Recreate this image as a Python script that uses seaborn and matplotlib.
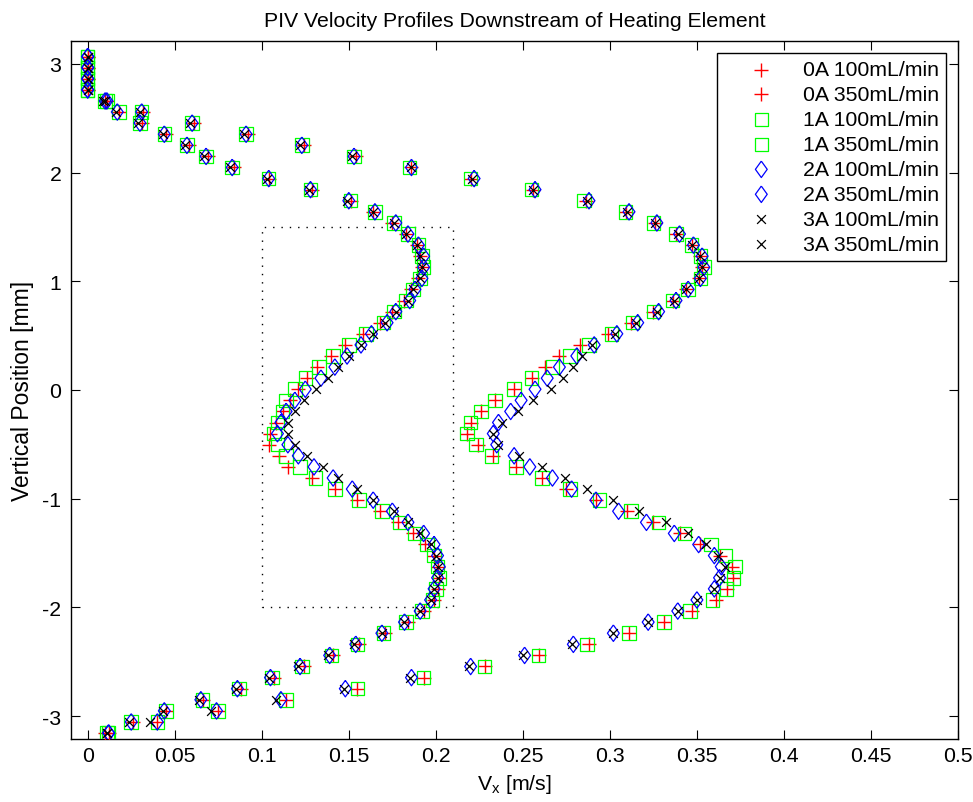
import matplotlib
matplotlib.use("Agg")
import matplotlib.pyplot as plt
import seaborn as sns
from matplotlib.patches import Rectangle

# ---------------- data ----------------
# vertical measurement positions [mm] (shared by all series)
y_pos = [3.067, 2.965, 2.863, 2.761, 2.659, 2.557, 2.455, 2.353, 2.251, 2.149,
         2.047, 1.945, 1.843, 1.741, 1.639, 1.537, 1.435, 1.333, 1.231, 1.129,
         1.027, 0.925, 0.823, 0.721, 0.619, 0.517, 0.415, 0.313, 0.211, 0.109,
         0.007, -0.095, -0.197, -0.299, -0.401, -0.503, -0.605, -0.707, -0.809, -0.911,
         -1.013, -1.115, -1.217, -1.319, -1.421, -1.523, -1.625, -1.727, -1.829, -1.931,
         -2.033, -2.135, -2.237, -2.339, -2.441, -2.543, -2.645, -2.747, -2.849, -2.951,
         -3.053, -3.155]

vx_0A_100 = [0, 0, 0, 0, 0.010, 0.018, 0.031, 0.045, 0.058, 0.069,
             0.084, 0.104, 0.129, 0.151, 0.164, 0.175, 0.183, 0.189, 0.191, 0.192,
             0.190, 0.186, 0.182, 0.175, 0.168, 0.158, 0.148, 0.140, 0.132, 0.126,
             0.121, 0.116, 0.112, 0.108, 0.105, 0.104, 0.110, 0.115, 0.129, 0.142,
             0.155, 0.168, 0.178, 0.187, 0.194, 0.199, 0.201, 0.202, 0.201, 0.199,
             0.193, 0.184, 0.171, 0.156, 0.141, 0.124, 0.107, 0.088, 0.066, 0.045,
             0.026, 0.010]
vx_0A_350 = [0, 0, 0, 0, 0.011, 0.032, 0.061, 0.092, 0.124, 0.154,
             0.186, 0.220, 0.256, 0.286, 0.309, 0.326, 0.338, 0.347, 0.352, 0.353,
             0.351, 0.344, 0.336, 0.325, 0.312, 0.299, 0.283, 0.271, 0.263, 0.255,
             0.245, 0.234, 0.226, 0.220, 0.218, 0.224, 0.233, 0.246, 0.261, 0.275,
             0.292, 0.310, 0.325, 0.340, 0.352, 0.363, 0.370, 0.371, 0.367, 0.361,
             0.347, 0.331, 0.311, 0.288, 0.259, 0.228, 0.193, 0.155, 0.114, 0.075,
             0.040, 0.012]
vx_1A_100 = [0, 0, 0, 0, 0.010, 0.018, 0.030, 0.044, 0.057, 0.068,
             0.083, 0.104, 0.128, 0.151, 0.165, 0.176, 0.184, 0.190, 0.192, 0.193,
             0.191, 0.187, 0.183, 0.176, 0.170, 0.160, 0.150, 0.141, 0.133, 0.125,
             0.119, 0.114, 0.112, 0.109, 0.107, 0.109, 0.114, 0.122, 0.131, 0.142,
             0.156, 0.169, 0.179, 0.188, 0.195, 0.199, 0.201, 0.202, 0.200, 0.198,
             0.192, 0.183, 0.170, 0.155, 0.140, 0.123, 0.106, 0.087, 0.066, 0.045,
             0.025, 0.011]
vx_1A_350 = [0, 0, 0, 0, 0.011, 0.031, 0.060, 0.091, 0.123, 0.153,
             0.185, 0.220, 0.255, 0.285, 0.309, 0.325, 0.338, 0.347, 0.352, 0.354,
             0.352, 0.345, 0.336, 0.325, 0.313, 0.301, 0.288, 0.277, 0.267, 0.255,
             0.245, 0.234, 0.226, 0.220, 0.218, 0.223, 0.232, 0.246, 0.261, 0.277,
             0.294, 0.312, 0.328, 0.343, 0.358, 0.366, 0.372, 0.371, 0.367, 0.359,
             0.346, 0.331, 0.311, 0.287, 0.259, 0.228, 0.193, 0.155, 0.114, 0.075,
             0.040, 0.012]
vx_2A_100 = [0, 0, 0, 0, 0.010, 0.017, 0.030, 0.044, 0.057, 0.068,
             0.083, 0.104, 0.128, 0.150, 0.165, 0.177, 0.184, 0.190, 0.193, 0.193,
             0.192, 0.188, 0.185, 0.177, 0.172, 0.163, 0.157, 0.149, 0.142, 0.134,
             0.125, 0.119, 0.114, 0.111, 0.109, 0.115, 0.121, 0.130, 0.141, 0.152,
             0.164, 0.175, 0.184, 0.193, 0.199, 0.201, 0.202, 0.201, 0.199, 0.197,
             0.191, 0.182, 0.169, 0.154, 0.139, 0.122, 0.105, 0.086, 0.065, 0.044,
             0.025, 0.012]
vx_2A_350 = [0, 0, 0, 0, 0.011, 0.031, 0.060, 0.091, 0.123, 0.153,
             0.186, 0.222, 0.257, 0.288, 0.311, 0.327, 0.340, 0.348, 0.353, 0.354,
             0.352, 0.345, 0.338, 0.328, 0.316, 0.304, 0.291, 0.281, 0.271, 0.264,
             0.257, 0.249, 0.243, 0.236, 0.233, 0.235, 0.245, 0.254, 0.267, 0.278,
             0.292, 0.305, 0.321, 0.337, 0.351, 0.360, 0.364, 0.363, 0.360, 0.350,
             0.339, 0.322, 0.302, 0.279, 0.251, 0.220, 0.186, 0.148, 0.111, 0.074,
             0.040, 0.012]
vx_3A_100 = [0, 0, 0, 0, 0.009, 0.016, 0.029, 0.043, 0.056, 0.067,
             0.082, 0.103, 0.127, 0.149, 0.164, 0.176, 0.183, 0.189, 0.191, 0.192,
             0.191, 0.187, 0.184, 0.177, 0.171, 0.164, 0.157, 0.150, 0.144, 0.138,
             0.131, 0.124, 0.119, 0.115, 0.115, 0.119, 0.126, 0.135, 0.144, 0.155,
             0.164, 0.176, 0.184, 0.191, 0.197, 0.200, 0.201, 0.201, 0.199, 0.197,
             0.191, 0.182, 0.169, 0.153, 0.138, 0.121, 0.104, 0.085, 0.064, 0.043,
             0.024, 0.011]
vx_3A_350 = [0, 0, 0, 0, 0.010, 0.030, 0.059, 0.090, 0.122, 0.152,
             0.186, 0.221, 0.256, 0.287, 0.310, 0.326, 0.339, 0.347, 0.352, 0.353,
             0.351, 0.344, 0.337, 0.327, 0.315, 0.303, 0.290, 0.284, 0.279, 0.273,
             0.266, 0.256, 0.247, 0.238, 0.233, 0.236, 0.248, 0.261, 0.274, 0.287,
             0.302, 0.317, 0.332, 0.345, 0.355, 0.362, 0.366, 0.363, 0.360, 0.350,
             0.339, 0.322, 0.302, 0.278, 0.250, 0.219, 0.185, 0.147, 0.108, 0.071,
             0.036, 0.011]

series_labels = ["0A 100mL/min", "0A 350mL/min", "1A 100mL/min", "1A 350mL/min",
                 "2A 100mL/min", "2A 350mL/min", "3A 100mL/min", "3A 350mL/min"]
series_values = [vx_0A_100, vx_0A_350, vx_1A_100, vx_1A_350,
                 vx_2A_100, vx_2A_350, vx_3A_100, vx_3A_350]

x_ticks = [0, 0.05, 0.1, 0.15, 0.2, 0.25, 0.3, 0.35, 0.4, 0.45, 0.5]
x_tick_labels = ["0", "0.05", "0.1", "0.15", "0.2", "0.25", "0.3", "0.35", "0.4", "0.45", "0.5"]
y_ticks = [-3, -2, -1, 0, 1, 2, 3]
y_tick_labels = ["-3", "-2", "-1", "0", "1", "2", "3"]

# region of interest (dotted box)
roi_x = [0.1, 0.21]
roi_y = [-2.0, 1.5]

# ---------------- style ----------------
plt.rcParams['font.family'] = ['Liberation Sans', 'DejaVu Sans']
plt.rcParams['axes.unicode_minus'] = False
plt.rcParams['mathtext.default'] = 'regular'
FS = 15.3

diamond = [(0, 1), (0.72, 0), (0, -1), (-0.72, 0), (0, 1)]
marker_styles = [
    dict(marker='+', color='#ff0000', s=95, linewidth=1.0),
    dict(marker='s', facecolor='none', edgecolor='#00ff00', s=95, linewidth=0.9),
    dict(marker=diamond, facecolor='none', edgecolor='#0000ff', s=140, linewidth=0.9),
    dict(marker='x', color='#000000', s=40, linewidth=0.9),
]

fig = plt.figure(figsize=(9.73, 8.03), dpi=100)
fig.patch.set_facecolor('white')
ax = fig.add_axes([71 / 973, 1 - 740 / 803, (958 - 71) / 973, (740 - 42) / 803])

for i, (vals, lab) in enumerate(zip(series_values, series_labels)):
    st = marker_styles[i // 2]
    sns.scatterplot(x=vals, y=y_pos, ax=ax, label=lab, zorder=3 + i, **st)

ax.add_patch(Rectangle((roi_x[0], roi_y[0]), roi_x[1] - roi_x[0], roi_y[1] - roi_y[0],
                       fill=False, edgecolor='black', linewidth=1.0,
                       linestyle=(0, (1, 5)), zorder=2))

ax.set_xlim(-0.0096, 0.5)
ax.set_ylim(-3.21, 3.21)
ax.set_xticks(x_ticks)
ax.set_xticklabels(x_tick_labels)
ax.set_yticks(y_ticks)
ax.set_yticklabels(y_tick_labels)
ax.tick_params(direction='in', length=6.5, width=0.8, top=True, right=True,
               labelsize=FS, colors='black')
ax.tick_params(axis='x', pad=5)
ax.tick_params(axis='y', pad=7)
for sp in ax.spines.values():
    sp.set_linewidth(1.0)
    sp.set_color('black')

ax.set_xlabel(r"V$_{x}$ [m/s]", fontsize=FS, labelpad=5)
ax.set_ylabel("Vertical Position [mm]", fontsize=16.5, labelpad=6)
ax.set_title("PIV Velocity Profiles Downstream of Heating Element", fontsize=FS, pad=11)

leg = ax.legend(loc='upper right', fontsize=FS, frameon=True, fancybox=False,
                edgecolor='black', framealpha=1, borderpad=0.35, labelspacing=0.28,
                handlelength=3.5, handletextpad=0.2, borderaxespad=0.55,
                scatterpoints=1)
leg.get_frame().set_linewidth(1.0)

fig.savefig("out.png", dpi=100, facecolor='white')
